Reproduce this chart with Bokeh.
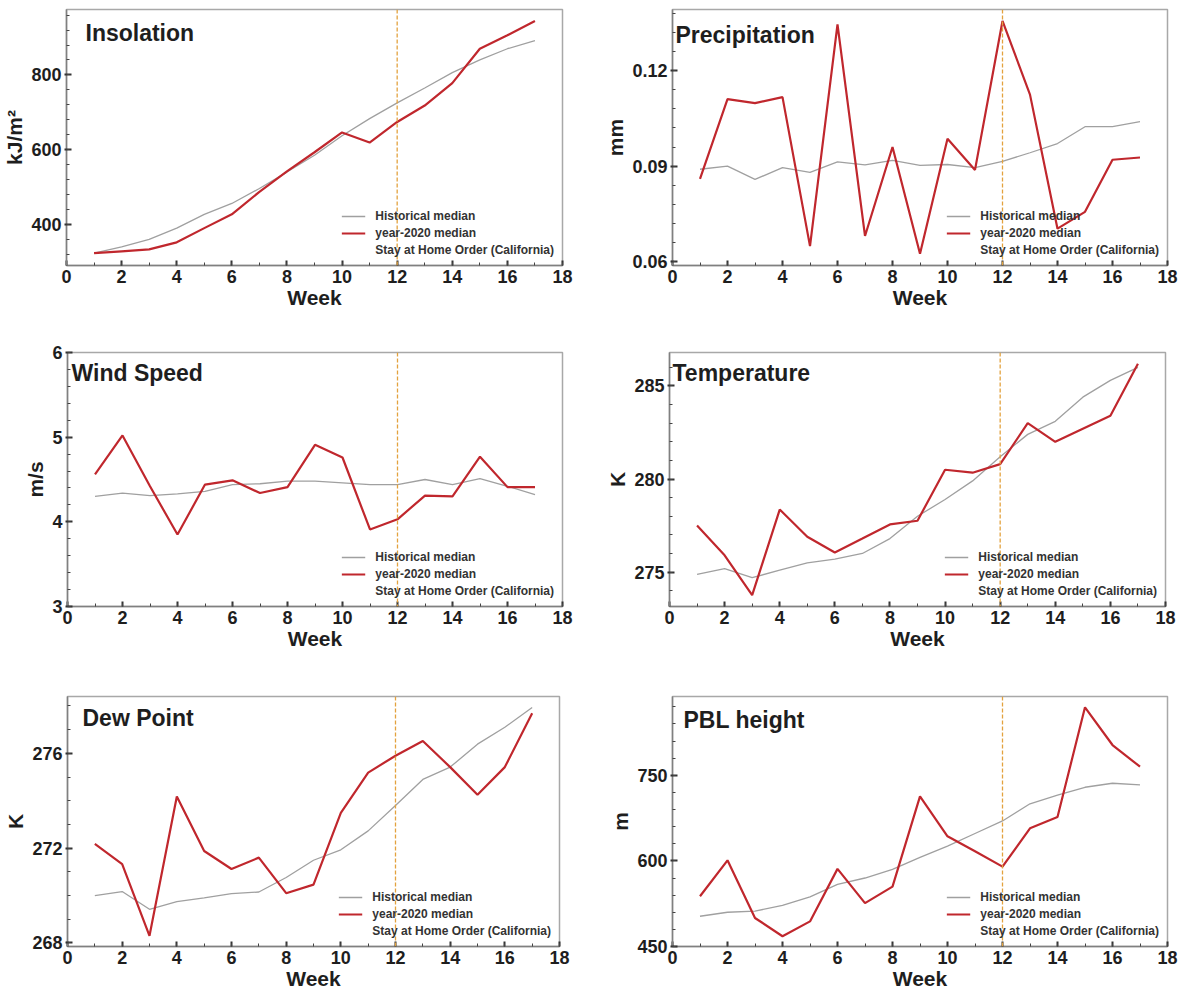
from bokeh.plotting import figure
from bokeh.layouts import row, column
from bokeh.models import (Range1d, Span, Label, Legend, LegendItem,
                          SingleIntervalTicker)
from bokeh.embed import file_html
from bokeh.resources import INLINE

# ---------------- data ----------------
weeks = list(range(1, 18))
stay_home_week = 12

insolation_hist = [323, 340, 360, 390, 427, 456, 496, 540, 585, 637, 683, 725, 765, 806, 840, 870, 892]
insolation_2020 = [323, 328, 333, 352, 390, 427, 487, 542, 593, 646, 619, 674, 718, 778, 870, 906, 944]

precip_hist = [0.0890, 0.0900, 0.0858, 0.0895, 0.0880, 0.0913, 0.0904, 0.0918, 0.0902, 0.0905,
               0.0895, 0.0915, 0.0942, 0.0971, 0.1024, 0.1024, 0.1040]
precip_2020 = [0.0860, 0.1111, 0.1098, 0.1117, 0.0648, 0.1346, 0.0680, 0.0960, 0.0624, 0.0986,
               0.0888, 0.1357, 0.1125, 0.0703, 0.0756, 0.0920, 0.0927]

wind_hist = [4.30, 4.34, 4.31, 4.33, 4.36, 4.44, 4.45, 4.48, 4.48, 4.46, 4.44, 4.44, 4.50, 4.44, 4.51, 4.42, 4.32]
wind_2020 = [4.56, 5.02, 4.42, 3.85, 4.44, 4.49, 4.34, 4.41, 4.91, 4.76, 3.91, 4.03, 4.31, 4.30, 4.77, 4.41, 4.41]

temp_hist = [274.88, 275.19, 274.70, 275.10, 275.50, 275.70, 276.00, 276.80, 278.00, 278.90,
             279.90, 281.20, 282.40, 283.10, 284.40, 285.30, 286.00]
temp_2020 = [277.50, 275.90, 273.76, 278.36, 276.90, 276.05, 276.80, 277.56, 277.76, 280.50,
             280.34, 280.80, 283.00, 282.00, 282.70, 283.40, 286.20]

dew_hist = [270.00, 270.17, 269.42, 269.74, 269.90, 270.08, 270.15, 270.76, 271.49, 271.93,
            272.73, 273.80, 274.90, 275.42, 276.39, 277.10, 277.94]
dew_2020 = [272.18, 271.33, 268.30, 274.18, 271.88, 271.12, 271.60, 270.10, 270.46, 273.49,
            275.19, 275.90, 276.52, 275.42, 274.25, 275.42, 277.69]

pbl_hist = [503, 510, 512, 522, 537, 559, 570, 585, 606, 626, 648, 670, 700, 715, 729, 736, 733]
pbl_2020 = [538, 601, 500, 468, 494, 586, 526, 555, 713, 643, 617, 590, 657, 677, 869, 803, 765]

legend_labels = ["Historical median", "year-2020 median", "Stay at Home Order (California)"]
x_label = "Week"

# ---------------- style ----------------
FONT = "Liberation Sans"
RED = "#C0272D"
GRAY = "#A0A0A0"
ORANGE = "#E3A23E"
TXT = "#1E1E1E"


def make_panel(title, ylabel, hist, y2020, yr, yint, nminor,
               W, H, L, R, T, B, title_dx, title_dy):
    p = figure(width=W, height=H, x_range=Range1d(0, 18), y_range=Range1d(*yr),
               output_backend="svg", toolbar_location=None,
               min_border_left=L, min_border_right=R,
               min_border_top=T, min_border_bottom=B)
    p.grid.visible = False
    p.outline_line_color = "#A8A8A8"
    p.outline_line_width = 1.5
    p.background_fill_color = "white"
    p.border_fill_color = "white"

    p.xaxis.ticker = SingleIntervalTicker(interval=2, num_minor_ticks=2)
    p.yaxis.ticker = SingleIntervalTicker(interval=yint, num_minor_ticks=nminor)

    for ax in (p.xaxis[0], p.yaxis[0]):
        ax.axis_line_color = "#808080"
        ax.axis_line_width = 1.5
        ax.major_tick_line_color = "#333333"
        ax.minor_tick_line_color = "#444444"
        ax.major_label_text_font = FONT
        ax.major_label_text_font_style = "bold"
        ax.major_label_text_font_size = "18px"
        ax.major_label_text_color = TXT
        ax.axis_label_text_font = FONT
        ax.axis_label_text_font_style = "bold"
        ax.axis_label_text_color = TXT

    xa = p.xaxis[0]
    xa.major_tick_in = 5
    xa.major_tick_out = 0
    xa.minor_tick_in = 3
    xa.minor_tick_out = 0
    xa.major_tick_line_width = 2
    xa.major_label_standoff = 4
    xa.axis_label = x_label
    xa.axis_label_text_font_size = "21px"
    xa.axis_label_standoff = 0

    ya = p.yaxis[0]
    ya.major_tick_in = 5
    ya.major_tick_out = 2
    ya.minor_tick_in = 3
    ya.minor_tick_out = 0
    ya.major_tick_line_width = 2
    ya.major_label_standoff = 3
    ya.axis_label = ylabel
    ya.axis_label_text_font_size = "21px"
    ya.axis_label_standoff = 2

    r_h = p.line(weeks, hist, line_color=GRAY, line_width=1.3)
    r_r = p.line(weeks, y2020, line_color=RED, line_width=2.2)
    r_s = p.line(x=[], y=[], line_color=ORANGE, line_dash="4 2", line_width=1.3)
    p.add_layout(Span(location=stay_home_week, dimension="height", line_color=ORANGE,
                      line_dash="4 2", line_width=1.3))

    legend = Legend(items=[LegendItem(label=legend_labels[0], renderers=[r_h]),
                           LegendItem(label=legend_labels[1], renderers=[r_r]),
                           LegendItem(label=legend_labels[2], renderers=[r_s])],
                    location="bottom_right")
    legend.border_line_color = None
    legend.background_fill_alpha = 0
    legend.label_text_font = FONT
    legend.label_text_font_style = "bold"
    legend.label_text_font_size = "12px"
    legend.label_text_color = "#333333"
    legend.glyph_width = 24
    legend.glyph_height = 14
    legend.label_height = 14
    legend.label_standoff = 10
    legend.spacing = 3
    legend.padding = 5
    legend.margin = 8
    p.add_layout(legend)

    frame_h = H - T - B
    p.add_layout(Label(x=title_dx, y=frame_h - title_dy, x_units="screen", y_units="screen",
                       text=title, text_font=FONT, text_font_style="bold",
                       text_font_size="23px", text_color=TXT,
                       text_baseline="top", text_align="left"))
    return p


p1 = make_panel("Insolation", "kJ/m\u00b2", insolation_hist, insolation_2020, (290, 975), 200, 5,
                596, 320, 66, 34, 9, 53, 19, 12)
p2 = make_panel("Precipitation", "mm", precip_hist, precip_2020, (0.0587, 0.1393), 0.03, 5,
                588, 320, 76, 17, 9, 55, 3, 12)
p3 = make_panel("Wind Speed", "m/s", wind_hist, wind_2020, (3, 6), 1, 5,
                596, 332, 67, 34, 32, 43, 4, 10)
p4 = make_panel("Temperature", "K", temp_hist, temp_2020, (273.15, 286.8), 5, 5,
                588, 332, 73, 19, 32, 43, 3, 10)
p5 = make_panel("Dew Point", "K", dew_hist, dew_2020, (267.85, 278.4), 4, 4,
                596, 342, 67, 37, 41, 48, 15, 11)
p6 = make_panel("PBL height", "m", pbl_hist, pbl_2020, (450, 888), 150, 5,
                588, 342, 76, 17, 44, 47, 11, 11)

layout = column(row(p1, p2), row(p3, p4), row(p5, p6))

with open("out.html", "w") as f:
    f.write(file_html(layout, INLINE))
